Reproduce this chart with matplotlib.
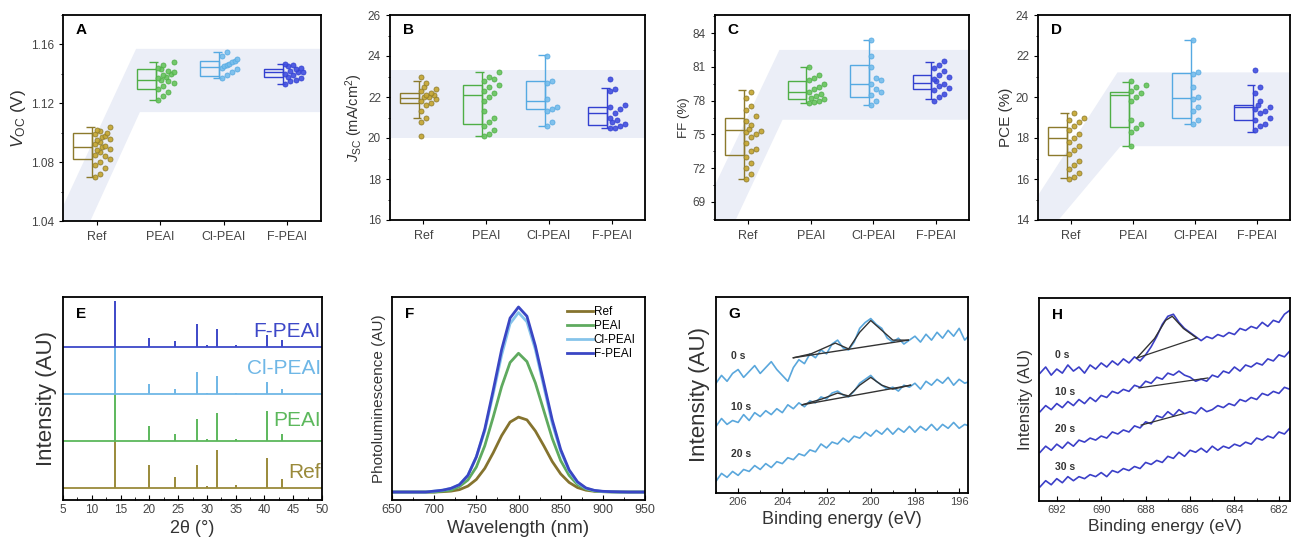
import numpy as np
import matplotlib
matplotlib.use('Agg')
import matplotlib.pyplot as plt
from matplotlib.ticker import MultipleLocator, AutoMinorLocator

plt.rcParams['font.family'] = ['Liberation Sans', 'DejaVu Sans']
plt.rcParams['mathtext.fontset'] = 'custom'
plt.rcParams['mathtext.rm'] = 'Liberation Sans'
plt.rcParams['mathtext.it'] = 'Liberation Sans:italic'
plt.rcParams['axes.linewidth'] = 1.3

groups = ['Ref', 'PEAI', 'Cl-PEAI', 'F-PEAI']
box_col = ['#8c7a2c', '#4fae46', '#55a9e2', '#3340d0']
pt_col = ['#c4a42c', '#66c45c', '#74bdec', '#3f4de0']
band_col = '#ebeef7'

# ---- A: Voc (V)
voc_ref = [1.070, 1.072, 1.076, 1.078, 1.080, 1.082, 1.084, 1.085, 1.087, 1.088, 1.089, 1.090,
           1.091, 1.092, 1.094, 1.095, 1.096, 1.097, 1.098, 1.099, 1.100, 1.101, 1.102, 1.104]
voc_peai = [1.122, 1.125, 1.128, 1.130, 1.132, 1.134, 1.135, 1.136, 1.137, 1.138, 1.139, 1.140,
            1.141, 1.142, 1.143, 1.144, 1.146, 1.148]
voc_cl = [1.137, 1.139, 1.141, 1.143, 1.144, 1.145, 1.146, 1.147, 1.148, 1.149, 1.150, 1.152, 1.155]
voc_f = [1.133, 1.135, 1.136, 1.137, 1.138, 1.139, 1.140, 1.141, 1.141, 1.142, 1.143, 1.144,
         1.145, 1.146, 1.147]
# box stats: whisker low, q1, median, q3, whisker high
voc_box = [(1.070, 1.082, 1.090, 1.100, 1.104), (1.122, 1.130, 1.136, 1.143, 1.148),
           (1.137, 1.1385, 1.1446, 1.1487, 1.155), (1.133, 1.138, 1.141, 1.143, 1.147)]
voc_band_x = [-0.53, 0.62, 3.53, 3.53, 0.68, -0.1, -0.53]
voc_band_y = [1.050, 1.157, 1.157, 1.114, 1.114, 1.040, 1.040]

# ---- B: Jsc (mA/cm2)
jsc_ref = [20.1, 20.8, 21.0, 21.3, 21.6, 21.7, 21.8, 21.9, 22.0, 22.0, 22.1, 22.1, 22.2, 22.3,
           22.4, 22.5, 22.7, 23.0]
jsc_peai = [20.1, 20.2, 20.4, 20.6, 20.8, 21.0, 21.3, 21.8, 22.0, 22.2, 22.3, 22.5, 22.6, 22.8,
            22.9, 23.0, 23.2]
jsc_cl = [20.6, 20.8, 21.3, 21.4, 21.5, 21.9, 22.7, 22.8, 24.0]
jsc_f = [20.5, 20.5, 20.6, 20.7, 20.8, 20.9, 21.0, 21.2, 21.4, 21.5, 21.6, 22.3, 22.4, 22.9]
jsc_box = [(21.0, 21.7, 21.95, 22.2, 22.8), (20.1, 20.7, 22.1, 22.6, 23.2),
           (20.6, 21.4, 21.8, 22.8, 24.05), (20.5, 20.65, 21.2, 21.5, 22.45)]
jsc_band_x = [-0.53, 3.53, 3.53, -0.53]
jsc_band_y = [23.3, 23.3, 20.0, 20.0]

# ---- C: FF (%)
ff_ref = [71.0, 71.5, 72.0, 72.5, 73.0, 73.5, 73.7, 74.2, 74.8, 75.0, 75.2, 75.3, 75.5, 75.8,
          76.2, 76.6, 77.2, 77.5, 78.2, 78.8]
ff_peai = [77.8, 77.9, 78.0, 78.1, 78.2, 78.4, 78.6, 78.8, 79.0, 79.2, 79.5, 79.8, 80.0, 80.3, 81.0]
ff_cl = [77.6, 78.0, 78.5, 78.8, 79.0, 79.5, 79.8, 80.0, 81.0, 82.0, 83.4]
ff_f = [78.0, 78.3, 78.6, 78.9, 79.1, 79.3, 79.5, 79.7, 79.9, 80.1, 80.3, 80.6, 80.9, 81.2, 81.5]
ff_box = [(71.0, 73.2, 75.4, 76.5, 78.9), (77.8, 78.1, 78.8, 79.7, 81.0),
          (77.6, 78.3, 79.5, 81.2, 83.4), (78.1, 79.0, 79.6, 80.3, 81.4)]
ff_band_x = [-0.53, 0.5, 3.53, 3.53, 0.55, -0.2, -0.53]
ff_band_y = [70.5, 82.5, 82.5, 76.3, 76.3, 67.4, 67.4]

# ---- D: PCE (%)
pce_ref = [16.0, 16.1, 16.3, 16.5, 16.7, 16.9, 17.2, 17.4, 17.6, 17.8, 18.0, 18.2, 18.4, 18.6,
           18.8, 18.9, 19.0, 19.2]
pce_peai = [17.6, 18.3, 18.5, 18.7, 18.9, 19.8, 20.0, 20.2, 20.3, 20.5, 20.6, 20.8]
pce_cl = [18.7, 18.9, 19.3, 19.5, 19.9, 20.0, 20.5, 21.1, 21.2, 22.8]
pce_f = [18.4, 18.6, 18.7, 18.9, 19.0, 19.2, 19.3, 19.4, 19.5, 19.6, 19.8, 20.2, 20.5, 21.3]
pce_box = [(16.05, 17.17, 18.0, 18.54, 19.2), (17.6, 18.55, 20.1, 20.25, 20.75),
           (18.7, 19.0, 19.95, 21.17, 22.8), (18.3, 18.9, 19.5, 19.6, 20.6)]
pce_band_x = [-0.53, 0.75, 3.53, 3.53, 0.8, -0.2, -0.53]
pce_band_y = [15.2, 21.2, 21.2, 17.6, 17.6, 14.0, 14.0]

# ---- E: XRD
xrd_pos = [14.0, 19.9, 24.5, 28.2, 30.1, 31.8, 35.0, 40.4, 43.0]
xrd_ref = [1.02, 0.49, 0.23, 0.49, 0.05, 0.81, 0.06, 0.64, 0.20]
xrd_peai = [1.00, 0.32, 0.14, 0.46, 0.04, 0.60, 0.05, 0.64, 0.14]
xrd_cl = [0.99, 0.21, 0.10, 0.46, 0.03, 0.39, 0.03, 0.25, 0.10]
xrd_f = [0.97, 0.19, 0.12, 0.48, 0.04, 0.37, 0.04, 0.26, 0.14]
xrd_col = ['#9a8a3a', '#5cb85c', '#6fb7e6', '#3d48c8']

# ---- F: PL
wl = [650, 660, 670, 680, 690, 700, 710, 720, 730, 740, 750, 760, 770, 780, 790, 800, 810, 820,
      830, 840, 850, 860, 870, 880, 890, 900, 910, 920, 930, 940, 950]
pl_ref = [0, 0, 0, 0, 0, 0, 0.002, 0.005, 0.013, 0.032, 0.068, 0.128, 0.212, 0.305, 0.378, 0.405,
          0.39, 0.33, 0.25, 0.165, 0.098, 0.052, 0.024, 0.01, 0.004, 0.002, 0.001, 0, 0, 0, 0]
pl_peai = [0, 0, 0, 0, 0, 0, 0.005, 0.01, 0.03, 0.065, 0.135, 0.25, 0.405, 0.57, 0.70, 0.75,
           0.705, 0.59, 0.44, 0.29, 0.17, 0.09, 0.04, 0.016, 0.006, 0.002, 0.001, 0, 0, 0, 0]
pl_cl = [0, 0, 0, 0, 0, 0.005, 0.01, 0.02, 0.04, 0.09, 0.19, 0.33, 0.53, 0.74, 0.91, 0.97, 0.92,
         0.77, 0.57, 0.37, 0.22, 0.115, 0.05, 0.02, 0.008, 0.003, 0.001, 0, 0, 0, 0]
pl_f = [0, 0, 0, 0, 0, 0.005, 0.01, 0.02, 0.04, 0.09, 0.19, 0.34, 0.55, 0.77, 0.94, 1.00, 0.95,
        0.79, 0.59, 0.39, 0.23, 0.12, 0.055, 0.022, 0.009, 0.004, 0.002, 0.001, 0, 0, 0]
pl_col = ['#85732e', '#5faa5f', '#86c4ea', '#3a46c4']

# ---- G: XPS N 1s (binding energy from 207 to 195.5, step 0.25)
g_x = np.arange(207.0, 195.49, -0.25)
g_0s = [56, 60, 57, 61, 63, 59, 62, 65, 61, 64, 67, 63, 60, 57, 64, 68, 66, 71, 69, 73, 71, 76,
        78, 74, 73, 77, 84, 87, 89, 86, 84, 79, 77, 79, 76, 78, 80, 77, 81, 78, 82, 79, 83, 80,
        84, 78, 81]
g_10s = [34, 38, 35, 37, 36, 40, 37, 41, 39, 42, 40, 43, 41, 45, 43, 46, 44, 47, 46, 49, 48, 51,
         52, 50, 49, 52, 56, 58, 60, 57, 55, 53, 54, 52, 55, 54, 56, 53, 57, 55, 58, 56, 59, 55,
         58, 56, 57]
g_20s = [6, 10, 8, 11, 9, 12, 11, 14, 12, 15, 13, 16, 15, 18, 17, 20, 19, 22, 21, 25, 23, 26, 25,
         28, 26, 29, 28, 31, 29, 32, 30, 33, 30, 33, 31, 34, 31, 34, 32, 35, 32, 35, 33, 36, 33,
         35, 34]
g_fit0_x = [203.5, 202.7, 201.6, 201.0, 200.5, 200.0, 199.5, 199.0, 198.3]
g_fit0_y = [69, 71, 76.5, 73.5, 82, 88, 83, 78, 78]
g_base0_x = [203.5, 198.3]
g_base0_y = [69, 78]
g_fit10_x = [203.1, 202.2, 201.5, 201.0, 200.5, 200.0, 199.5, 199.0, 198.2]
g_fit10_y = [45, 48, 51, 49.5, 55, 59, 55, 53, 55]
g_base10_x = [203.1, 198.2]
g_base10_y = [45, 55]

# ---- H: XPS F 1s (binding energy from 692.75 to 681.5, step 0.25)
h_x = np.arange(692.75, 681.49, -0.25)
h_0s = [63, 66, 62, 65, 63, 67, 64, 66, 63, 67, 65, 68, 66, 69, 67, 70, 68, 71, 69, 72, 76, 81,
        87, 91, 92, 88, 85, 83, 81, 79, 81, 80, 82, 81, 83, 82, 85, 84, 86, 85, 88, 86, 89, 88,
        92, 94]
h_10s = [44, 47, 45, 48, 46, 49, 47, 50, 48, 51, 49, 52, 51, 54, 53, 55, 54, 57, 56, 59, 58, 61,
         60, 63, 62, 64, 62, 61, 59, 60, 59, 62, 61, 64, 63, 66, 64, 67, 66, 68, 67, 70, 69, 72,
         71, 74]
h_20s = [24, 27, 25, 28, 26, 29, 27, 30, 29, 31, 30, 32, 31, 34, 33, 35, 34, 37, 36, 39, 38, 42,
         41, 44, 42, 45, 43, 44, 43, 46, 44, 45, 47, 46, 48, 47, 50, 49, 51, 50, 53, 52, 54, 53,
         56, 55]
h_30s = [7, 10, 8, 11, 9, 12, 10, 12, 11, 13, 12, 14, 12, 15, 14, 16, 15, 17, 16, 19, 18, 20, 19,
         22, 21, 24, 22, 25, 24, 26, 24, 27, 25, 27, 26, 28, 27, 29, 28, 31, 30, 32, 31, 34, 33,
         36]
h_fit0_x = [688.4, 687.6, 687.1, 686.8, 686.3, 685.7]
h_fit0_y = [70.4, 80, 89, 91, 85, 80.3]
h_base_x = [[688.4, 685.7], [688.3, 685.2], [688.2, 686.3]]
h_base_y = [[70.4, 80.3], [55.7, 60.6], [37.4, 43.0]]

W, H = 1293, 549
fig = plt.figure(figsize=(W / 100, H / 100), dpi=100)


def px_axes(l, r, t, b):
    return fig.add_axes([l / W, (H - b) / H, (r - l) / W, (b - t) / H])


def swarm_offsets(vals, dy):
    # simple deterministic beeswarm: put each point in the first free column
    vals = np.asarray(vals)
    order = np.argsort(vals)
    offs = np.zeros(len(vals))
    placed = []
    slots = [0.02, 0.10, 0.18, 0.26, 0.06, 0.14, 0.22, 0.30, 0.34]
    for i in order:
        for s in slots:
            if all(abs(vals[i] - v) > dy or abs(s - o) > 0.03 for v, o in placed):
                break
        offs[i] = s
        placed.append((vals[i], s))
    return offs


def box_panel(ax, pts, boxes, band_x, band_y, ylim, step, ylabel, ylsize, letter):
    ax.fill(band_x, band_y, color=band_col, lw=0, zorder=0)
    for k, (vals, st) in enumerate(zip(pts, boxes)):
        lo, q1, med, q3, hi = st
        c = box_col[k]
        xr = k - 0.07
        ax.bar(xr - 0.15, q3 - q1, width=0.3, bottom=q1, fill=False, edgecolor=c, lw=1.0, zorder=3)
        ax.hlines(med, xr - 0.3, xr, color=c, lw=1.0, zorder=3)
        ax.vlines(xr, lo, hi, color=c, lw=1.0, zorder=3)
        ax.hlines([lo, hi], xr - 0.1, xr + 0.04, color=c, lw=1.0, zorder=3)
        offs = swarm_offsets(vals, (ylim[1] - ylim[0]) * 0.045)
        ax.scatter(k - 0.05 + offs, vals, s=13, facecolor=pt_col[k], edgecolor=c, lw=0.6,
                   alpha=0.9, zorder=4)
    ax.set_xlim(-0.53, 3.53)
    ax.set_ylim(*ylim)
    ax.yaxis.set_major_locator(MultipleLocator(step))
    ax.yaxis.set_minor_locator(AutoMinorLocator(2))
    ax.set_xticks(range(4))
    ax.set_xticklabels(groups, fontsize=9, color='#444444')
    ax.tick_params(axis='y', labelsize=8.5, labelcolor='#444444', direction='out', length=3)
    ax.tick_params(axis='y', which='minor', direction='out', length=1.8)
    ax.tick_params(axis='x', direction='out', length=3, pad=4)
    ax.set_ylabel(ylabel, fontsize=ylsize, color='#333333', labelpad=2)
    ax.text(0.05, 0.96, letter, transform=ax.transAxes, fontsize=11, fontweight='bold',
            ha='left', va='top')


# ---------- top row
axA = px_axes(63, 321, 15, 221)
box_panel(axA, [voc_ref, voc_peai, voc_cl, voc_f], voc_box, voc_band_x, voc_band_y,
          (1.04, 1.18), 0.04, r'$V_{\mathrm{OC}}$ (V)', 12.5, 'A')
axA.yaxis.set_major_formatter(plt.FormatStrFormatter('%.2f'))

axB = px_axes(390, 645, 15, 220)
box_panel(axB, [jsc_ref, jsc_peai, jsc_cl, jsc_f], jsc_box, jsc_band_x, jsc_band_y,
          (16, 26), 2, r'$J_{\mathrm{SC}}$ (mA/cm$^{2}$)', 10.5, 'B')

axC = px_axes(715, 969, 15, 220)
box_panel(axC, [ff_ref, ff_peai, ff_cl, ff_f], ff_box, ff_band_x, ff_band_y,
          (67.4, 85.6), 3, 'FF (%)', 9.5, 'C')

axD = px_axes(1038, 1290, 15, 220)
box_panel(axD, [pce_ref, pce_peai, pce_cl, pce_f], pce_box, pce_band_x, pce_band_y,
          (14, 24), 2, 'PCE (%)', 11, 'D')


def bottom_style(ax, major, minor, xlabel, xlsize, ylabel, ylsize, letter, tsize):
    ax.set_yticks([])
    ax.xaxis.set_major_locator(MultipleLocator(major))
    ax.xaxis.set_minor_locator(MultipleLocator(minor))
    ax.tick_params(axis='x', which='major', direction='in', length=3.5, labelsize=tsize,
                   labelcolor='#444444', pad=3)
    ax.tick_params(axis='x', which='minor', direction='in', length=2)
    ax.set_xlabel(xlabel, fontsize=xlsize, color='#333333', labelpad=3)
    ax.set_ylabel(ylabel, fontsize=ylsize, color='#333333', labelpad=4)
    ax.text(0.05, 0.95, letter, transform=ax.transAxes, fontsize=11, fontweight='bold',
            ha='left', va='top')


# ---------- E: XRD
axE = px_axes(63, 322, 297, 500)
for k, hts in enumerate([xrd_ref, xrd_peai, xrd_cl, xrd_f]):
    axE.hlines(k, 5, 50, color=xrd_col[k], lw=1.3)
    axE.vlines(xrd_pos, k, np.array(hts) + k, color=xrd_col[k], lw=1.4)
for k, (lab, yy) in enumerate(zip(groups, [0.34, 1.43, 2.53, 3.32])):
    axE.text(49.8, yy, lab, color=xrd_col[k], fontsize=15, ha='right', va='center')
axE.set_xlim(5, 50)
axE.set_ylim(-0.255, 4.06)
bottom_style(axE, 5, 2.5, '2θ (°)', 13, 'Intensity (AU)', 16, 'E', 8.5)

# ---------- F: PL
axF = px_axes(392, 645, 297, 500)
for k, ys in enumerate([pl_ref, pl_peai, pl_cl, pl_f]):
    axF.plot(wl, ys, color=pl_col[k], lw=2.0, label=groups[k])
axF.set_xlim(650, 950)
axF.set_ylim(-0.043, 1.054)
axF.legend(loc='upper right', frameon=False, fontsize=8.5, handlelength=2.2, handletextpad=0.1,
           labelspacing=0.15, borderaxespad=0.4)
bottom_style(axF, 50, 25, 'Wavelength (nm)', 13.5, 'Photoluminescence (AU)', 11, 'F', 9)

# ---------- G: XPS N 1s
axG = px_axes(716, 968, 297, 493)
for ys in [g_0s, g_10s, g_20s]:
    axG.plot(g_x, ys, color='#5aa7dc', lw=1.2)
for fx, fy in [(g_fit0_x, g_fit0_y), (g_base0_x, g_base0_y), (g_fit10_x, g_fit10_y),
               (g_base10_x, g_base10_y)]:
    axG.plot(fx, fy, color='#333333', lw=1.0)
for lab, yy in zip(['0 s', '10 s', '20 s'], [70, 44, 20]):
    axG.text(206.3, yy, lab, fontsize=7.5, fontweight='bold', color='#333333', va='center')
axG.set_xlim(207, 195.6)
axG.set_ylim(0, 100)
bottom_style(axG, 2, 1, 'Binding energy (eV)', 13, 'Intensity (AU)', 16, 'G', 8)

# ---------- H: XPS F 1s
axH = px_axes(1039, 1290, 298, 501)
for ys in [h_0s, h_10s, h_20s, h_30s]:
    axH.plot(h_x, ys, color='#3b3fc8', lw=1.2)
axH.plot(h_fit0_x, h_fit0_y, color='#333333', lw=1.0)
for bx, by in zip(h_base_x, h_base_y):
    axH.plot(bx, by, color='#333333', lw=0.9)
for lab, yy in zip(['0 s', '10 s', '20 s', '30 s'], [72, 53.7, 35.5, 16.7]):
    axH.text(692.1, yy, lab, fontsize=7.5, fontweight='bold', color='#333333', va='center')
axH.set_xlim(692.8, 681.5)
axH.set_ylim(0, 100)
bottom_style(axH, 2, 1, 'Binding energy (eV)', 12.5, 'Intensity (AU)', 12, 'H', 8)

fig.savefig('out.png', dpi=100)
